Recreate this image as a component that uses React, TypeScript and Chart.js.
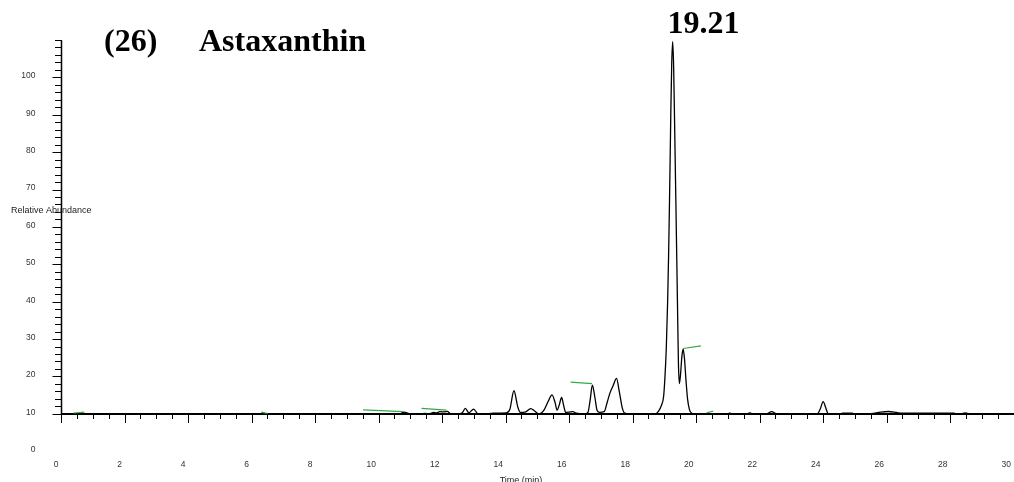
import { useEffect, useRef } from 'react';
import { Chart, registerables } from 'chart.js';

Chart.register(...registerables);

// ---- data ----
const retentionTimes = [
  0.0, 10.5, 10.68, 10.8, 10.92, 11.05, 11.3, 11.45, 11.58, 11.72, 11.8, 11.92, 12.05, 12.15, 12.25,
  12.5, 12.62, 12.72, 12.83, 12.98, 13.12, 13.3, 13.6, 14.0, 14.12, 14.25, 14.37, 14.45, 14.6, 14.78,
  14.9, 15.04, 15.2, 15.33, 15.45, 15.55, 15.61, 15.68, 15.75, 15.82, 15.88, 16.0, 16.1, 16.22, 16.45,
  16.58, 16.65, 16.72, 16.8, 16.87, 16.95, 17.09, 17.19, 17.27, 17.38, 17.48, 17.57, 17.66, 17.74, 17.9,
  18.5, 18.7, 18.8, 18.9, 18.96, 19.0, 19.05, 19.09, 19.12, 19.15, 19.19, 19.22, 19.25, 19.28, 19.31,
  19.35, 19.4, 19.43, 19.46, 19.5, 19.54, 19.58, 19.62, 19.67, 19.72, 19.78, 19.85, 19.95, 20.5, 20.9,
  21.05, 21.2, 21.55, 21.68, 21.8, 22.2, 22.37, 22.5, 22.6, 23.8, 23.9, 23.99, 24.08, 24.15, 24.5,
  24.6, 24.9, 25.0, 25.5, 25.8, 26.04, 26.3, 26.46, 27.0, 28.1, 28.25, 28.35, 28.47, 28.6, 30.0,
];
const relativeAbundance = [
  10.0, 10.0, 10.2, 10.6, 10.25, 10.1, 10.1, 10.25, 10.1, 10.5, 10.35, 10.7, 10.65, 10.8, 10.15,
  10.1, 10.4, 11.6, 10.4, 11.4, 10.1, 10.05, 10.3, 10.4, 11.3, 16.3, 12.0, 10.5, 10.6, 11.5,
  10.9, 10.1, 11.2, 13.5, 15.2, 13.0, 11.1, 12.6, 14.5, 12.2, 10.5, 10.6, 10.7, 10.3, 10.0,
  10.5, 13.8, 17.8, 14.5, 11.0, 10.5, 10.7, 13.3, 15.6, 17.8, 19.6, 16.0, 11.8, 10.3, 10.1,
  10.05, 10.1, 10.8, 12.5, 14.5, 19.0, 28.0, 40.0, 52.0, 67.0, 90.0, 104.0, 109.7, 103.0, 88.0,
  67.0, 40.0, 24.0, 18.2, 21.0, 25.5, 27.4, 25.0, 19.0, 14.0, 11.2, 10.3, 10.1, 10.05, 10.0,
  10.3, 10.0, 10.0, 10.35, 10.0, 10.1, 10.7, 10.2, 10.0, 10.0, 11.5, 13.4, 11.5, 10.1, 10.0,
  10.3, 10.3, 10.05, 10.2, 10.6, 10.75, 10.5, 10.3, 10.3, 10.3, 10.0, 10.15, 10.35, 10.1, 10.0,
];

// short green baseline markers: [start time, end time] and [start value, end value]
const markerTimes = [
  [0.38, 0.72],
  [6.29, 6.5],
  [9.5, 10.76],
  [11.34, 12.12],
  [16.04, 16.71],
  [19.58, 20.14],
  [20.32, 20.53],
];
const markerValues = [
  [10.3, 10.6],
  [10.6, 10.2],
  [11.2, 10.7],
  [11.6, 11.1],
  [18.6, 18.2],
  [27.6, 28.3],
  [10.4, 10.9],
];

const xMajorTicks = [0, 2, 4, 6, 8, 10, 12, 14, 16, 18, 20, 22, 24, 26, 28, 30];
const yLabelTicks = [0, 10, 20, 30, 40, 50, 60, 70, 80, 90, 100];

const titleNumber = '(26)';
const titleName = 'Astaxanthin';
const peakLabel = '19.21';
const peakTime = 19.21;
const yTitle = 'Relative Abundance';
const xTitle = 'Time (min)';

const X_MIN = 0;
const X_MAX = 30;
const Y_MIN = 0;
const Y_MAX = 110;
const BASELINE = 10;

const SANS = '"Liberation Sans", Arial, Helvetica, sans-serif';
const SERIF = '"Liberation Serif", "Times New Roman", serif';
const TICK_COLOR = '#333';

const hiddenBelowBaseline = (ctx: any) =>
  ctx.tick && ctx.tick.value >= BASELINE ? '#000' : 'rgba(0,0,0,0)';

const annotationPlugin = {
  id: 'chromAnnotations',
  afterDraw(chart: any) {
    const { ctx, chartArea, scales } = chart;
    const xs = scales.x;
    const ys = scales.y;
    ctx.save();
    // left axis line, from the top of the scale down to the baseline
    ctx.strokeStyle = '#000';
    ctx.lineWidth = 1.5;
    ctx.beginPath();
    ctx.moveTo(chartArea.left, ys.getPixelForValue(Y_MAX));
    ctx.lineTo(chartArea.left, ys.getPixelForValue(BASELINE));
    ctx.stroke();

    // titles
    ctx.fillStyle = '#000';
    ctx.font = `bold 32px ${SERIF}`;
    ctx.textAlign = 'left';
    ctx.textBaseline = 'alphabetic';
    ctx.fillText(titleNumber, 104, 51);
    ctx.fillText(titleName, 199, 51);
    ctx.fillText(peakLabel, xs.getPixelForValue(peakTime) - 4, 33);

    // axis titles
    ctx.fillStyle = '#222';
    ctx.font = `9px ${SANS}`;
    ctx.textBaseline = 'middle';
    ctx.fillText(yTitle, 11, 211);
    ctx.textAlign = 'center';
    ctx.textBaseline = 'top';
    ctx.fillText(xTitle, 521, 476);
    ctx.restore();
  },
};

export default function App() {
  const canvasRef = useRef<HTMLCanvasElement | null>(null);

  useEffect(() => {
    document.body.style.margin = '0';
    const canvas = canvasRef.current;
    if (!canvas) return;

    const trace = retentionTimes.map((t, i) => ({ x: t, y: relativeAbundance[i] }));
    const markerSets = markerTimes.map((times, i) => ({
      data: times.map((t, j) => ({ x: t, y: markerValues[i][j] })),
      borderColor: '#35a845',
      borderWidth: 1.2,
      pointRadius: 0,
      tension: 0,
      fill: false,
    }));

    const chart = new Chart(canvas, {
      type: 'line',
      data: {
        datasets: [
          {
            data: trace,
            borderColor: '#000',
            borderWidth: 1.3,
            pointRadius: 0,
            cubicInterpolationMode: 'monotone',
            fill: false,
          },
          ...markerSets,
        ],
      },
      options: {
        responsive: false,
        animation: false,
        events: [],
        layout: { padding: { top: 40.5, bottom: 30.3, left: 0, right: 0 } },
        plugins: {
          legend: { display: false },
          tooltip: { enabled: false },
          title: { display: false },
        },
        scales: {
          x: {
            type: 'linear',
            axis: 'x',
            position: { y: BASELINE },
            min: X_MIN,
            max: X_MAX,
            afterBuildTicks: (s: any) => {
              s.ticks = xMajorTicks.map((v) => ({ value: v }));
            },
            afterFit: (s: any) => {
              s.paddingLeft = 0;
              s.paddingRight = 0;
            },
            grid: { drawOnChartArea: false, drawTicks: true, tickLength: 8, color: '#000', lineWidth: 1 },
            border: { display: true, color: '#000', width: 2 },
            ticks: {
              autoSkip: false,
              maxRotation: 0,
              minRotation: 0,
              align: 'end',
              labelOffset: -3,
              padding: 37,
              color: TICK_COLOR,
              font: { family: SANS, size: 8.5 },
              callback: (v: any) => String(v),
            },
          },
          xMinor: {
            type: 'linear',
            axis: 'x',
            position: { y: BASELINE },
            min: X_MIN,
            max: X_MAX,
            afterFit: (s: any) => {
              s.paddingLeft = 0;
              s.paddingRight = 0;
            },
            grid: { drawOnChartArea: false, drawTicks: true, tickLength: 5, color: '#000', lineWidth: 1 },
            border: { display: false },
            ticks: { display: false, autoSkip: false, stepSize: 0.5 },
          },
          y: {
            type: 'linear',
            axis: 'y',
            position: 'left',
            min: Y_MIN,
            max: Y_MAX,
            afterBuildTicks: (s: any) => {
              s.ticks = yLabelTicks.map((v) => ({ value: v }));
            },
            afterFit: (s: any) => {
              s.width = 61.5;
            },
            grid: { drawOnChartArea: false, drawTicks: true, tickLength: 9, color: hiddenBelowBaseline, lineWidth: 1 },
            border: { display: false },
            ticks: {
              autoSkip: false,
              padding: 17,
              labelOffset: -2,
              color: TICK_COLOR,
              font: { family: SANS, size: 8.5 },
              callback: (v: any) => String(v),
            },
          },
          yMinor: {
            type: 'linear',
            axis: 'y',
            position: { x: X_MIN },
            min: Y_MIN,
            max: Y_MAX,
            grid: { drawOnChartArea: false, drawTicks: true, tickLength: 7, color: hiddenBelowBaseline, lineWidth: 1 },
            border: { display: false },
            ticks: { display: false, autoSkip: false, stepSize: 2 },
          },
        },
      } as any,
      plugins: [annotationPlugin],
    });

    return () => chart.destroy();
  }, []);

  return (
    <div style={{ width: 1014, height: 482, position: 'relative', background: '#fff' }}>
      <canvas ref={canvasRef} width={1014} height={482} style={{ display: 'block' }} />
    </div>
  );
}
